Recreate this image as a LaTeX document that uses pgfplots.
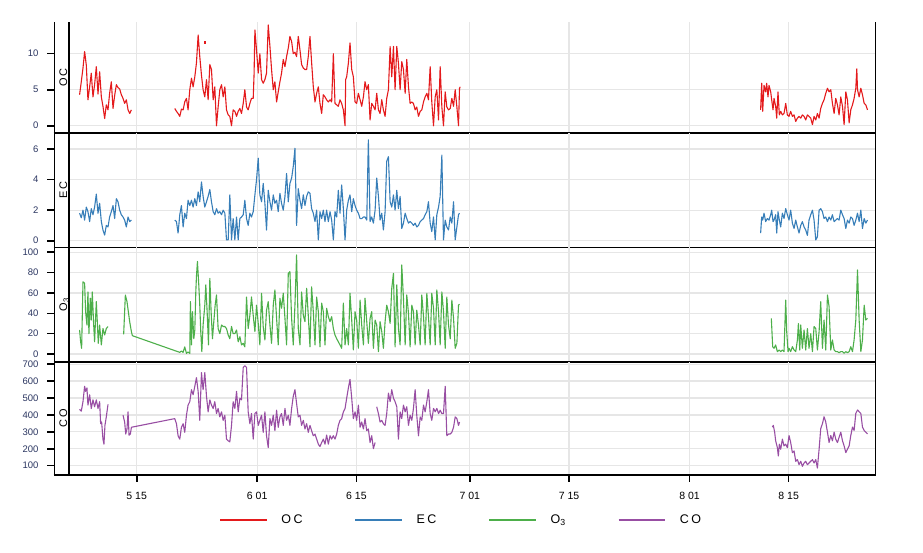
\documentclass[border=0pt]{standalone}
\usepackage{fontspec}
\setmainfont{Liberation Sans}
\newfontfamily\spacedfont[LetterSpace=20]{Liberation Sans}
\usepackage{pgfplots}
\usepackage{pgfplotstable}
\pgfplotsset{compat=1.18}
\definecolor{ocred}{HTML}{E41A1C}
\definecolor{ecblue}{HTML}{377EB8}
\definecolor{othree}{HTML}{4DAF4A}
\definecolor{copurp}{HTML}{984EA3}
\definecolor{gridc}{HTML}{E6E6E6}
\definecolor{ylab}{HTML}{2A3560}

\pgfplotstableread{
d v
6.94 4.3
7.18 6.1
7.42 8.0
7.65 10.3
7.89 8.4
8.12 3.6
8.36 5.4
8.59 7.3
8.83 4.0
9.06 5.7
9.30 8.2
9.54 4.4
9.77 7.5
10.01 4.0
10.24 2.7
10.48 1.0
10.71 2.9
10.95 2.2
11.18 4.5
11.42 6.1
11.66 2.4
11.89 4.2
12.13 5.7
12.36 5.3
12.60 5.1
12.83 4.3
13.07 3.8
13.30 3.1
13.54 3.6
13.78 2.2
14.01 1.7
14.25 2.2
nan nan
20.37 2.4
20.61 2.0
20.84 1.7
21.08 1.3
21.31 2.3
21.55 2.2
21.78 3.3
22.02 3.8
22.25 2.2
22.49 5.0
22.73 6.6
22.96 5.4
23.20 6.8
23.43 8.7
23.67 12.6
23.90 9.6
24.14 7.0
24.37 5.0
24.61 4.0
24.85 6.4
25.08 3.6
25.32 8.5
25.55 7.8
25.79 3.6
26.02 5.4
26.26 0.0
26.49 2.6
26.73 5.0
26.97 5.7
27.20 4.0
27.44 5.4
27.67 2.2
27.91 1.5
28.14 1.3
28.38 0.0
28.61 2.2
28.85 2.0
29.09 1.3
29.32 2.0
29.56 2.4
29.79 1.7
30.03 3.1
30.26 5.0
30.50 2.6
30.73 2.2
30.97 3.1
31.20 3.8
31.44 3.8
31.56 7.1
31.68 13.3
31.91 10.5
32.15 7.3
32.38 10.0
32.62 6.4
32.85 5.9
33.09 6.4
33.32 7.3
33.56 14.0
33.80 11.0
34.03 7.8
34.27 5.0
34.50 6.1
34.74 3.3
34.97 4.7
35.21 6.1
35.44 7.3
35.68 9.2
35.92 8.2
36.15 9.6
36.39 10.8
36.62 12.4
36.86 11.7
37.09 10.0
37.33 10.2
37.56 9.6
37.80 12.4
38.04 10.5
38.27 8.5
38.51 8.0
38.74 7.8
38.98 7.8
39.21 9.6
39.45 12.4
39.68 8.8
39.92 5.4
40.16 3.3
40.39 4.5
40.63 5.4
40.86 3.1
41.10 1.7
41.33 4.3
41.57 4.0
41.80 3.6
42.04 3.3
42.28 3.6
42.51 3.3
42.75 10.0
42.98 3.1
43.22 2.9
43.45 2.7
43.69 3.6
43.92 3.1
44.16 2.2
44.40 0.0
44.49 6.4
44.63 6.8
44.87 8.7
45.10 11.5
45.34 7.8
45.57 6.8
45.81 3.3
46.04 3.1
46.28 4.5
46.52 3.6
46.75 2.7
46.99 4.0
47.22 6.1
47.46 5.0
47.69 5.7
47.93 0.8
48.16 3.1
48.40 2.7
48.64 2.2
48.87 4.5
49.11 2.2
49.34 1.7
49.58 3.6
49.81 2.2
50.05 1.3
50.28 3.8
50.52 5.0
50.76 11.0
50.99 6.8
51.23 11.0
51.46 5.0
51.70 11.0
51.93 8.7
52.17 5.0
52.40 8.9
52.64 7.8
52.88 4.5
53.11 9.2
53.35 5.4
53.58 3.1
53.82 3.3
54.05 3.1
54.29 2.2
54.52 2.6
54.76 1.3
55.00 2.0
55.23 2.2
55.47 3.3
55.70 4.0
55.94 4.5
56.17 3.6
56.41 8.2
56.64 3.3
56.88 0.0
57.12 4.0
57.35 5.0
57.59 0.8
57.82 8.2
58.06 2.6
58.29 0.0
58.53 4.7
58.76 2.6
59.00 2.2
59.24 2.4
59.47 3.8
59.71 2.7
59.94 5.0
60.18 2.6
60.41 0.0
60.55 5.2
60.65 5.4
nan nan
103.04 2.2
103.19 5.9
103.33 2.0
103.52 5.6
103.75 4.7
103.89 5.9
104.08 4.0
104.22 5.6
104.46 4.7
104.60 3.6
104.79 2.2
104.93 3.8
105.16 2.7
105.31 1.05
105.49 4.7
105.68 1.5
105.87 2.0
106.11 1.5
106.34 1.7
106.58 3.1
106.81 1.5
107.05 1.3
107.28 2.0
107.52 1.3
107.76 1.5
107.99 0.6
108.23 1.05
108.46 1.3
108.70 1.05
108.93 1.5
109.17 1.3
109.40 0.8
109.64 1.5
109.87 1.3
110.11 1.05
110.35 0.15
110.58 1.3
110.82 0.8
111.05 1.7
111.29 1.05
111.52 2.4
111.76 3.1
111.99 3.6
112.23 4.5
112.47 5.2
112.70 4.7
112.94 5.0
113.17 3.1
113.41 1.7
113.64 3.8
113.88 2.9
114.11 1.5
114.35 4.0
114.59 2.7
114.82 0.15
115.06 4.7
115.29 3.6
115.53 0.4
115.76 2.2
116.00 2.9
116.23 3.8
116.47 5.2
116.61 7.9
116.71 5.0
116.94 4.0
117.18 5.2
117.41 4.3
117.65 3.1
117.88 2.9
118.12 2.2
}\octable

\pgfplotstableread{
d v
6.94 1.8
7.18 1.5
7.42 2.0
7.65 1.35
7.89 2.2
8.12 1.9
8.36 1.25
8.59 2.1
8.83 1.7
9.06 2.2
9.30 3.05
9.54 1.8
9.77 2.45
10.01 1.25
10.24 0.7
10.48 0.37
10.71 1.0
10.95 0.9
11.18 1.55
11.42 1.9
11.66 2.3
11.89 1.45
12.13 2.75
12.36 2.55
12.60 2.0
12.83 1.7
13.07 1.55
13.30 1.35
13.54 0.9
13.78 1.55
14.01 1.25
14.25 1.35
nan nan
20.37 1.35
20.61 1.25
20.84 0.5
21.08 1.7
21.31 2.3
21.55 0.9
21.78 1.8
22.02 1.45
22.25 2.65
22.49 2.3
22.73 2.65
22.96 2.2
23.20 2.75
23.43 2.3
23.67 3.2
23.90 2.55
24.14 3.85
24.37 2.9
24.61 2.2
24.85 2.55
25.08 2.9
25.32 3.35
25.55 2.55
25.79 1.9
26.02 1.7
26.26 2.1
26.49 1.8
26.73 1.9
26.97 1.7
27.20 2.0
27.44 1.8
27.67 0.05
27.91 0.05
28.14 3.0
28.38 0.05
28.61 1.45
28.85 0.05
29.09 1.55
29.32 0.05
29.56 1.45
29.79 1.55
30.03 1.7
30.26 2.65
30.50 1.45
30.73 1.0
30.97 1.8
31.20 1.55
31.44 1.9
31.68 3.0
31.91 4.0
32.15 5.4
32.38 3.0
32.62 2.55
32.85 3.75
33.09 2.45
33.32 0.7
33.56 3.3
33.80 2.55
34.03 2.0
34.27 3.0
34.50 2.45
34.74 2.65
34.97 1.9
35.21 3.1
35.44 2.45
35.68 2.0
35.92 2.9
36.15 4.4
36.39 2.55
36.62 3.75
36.86 4.1
37.09 4.85
37.33 6.05
37.56 1.0
37.80 3.4
38.04 2.65
38.27 2.1
38.51 3.0
38.74 2.3
38.98 2.9
39.21 3.2
39.45 3.1
39.68 2.1
39.92 1.8
40.16 1.25
40.39 2.0
40.63 0.05
40.86 1.9
41.10 1.45
41.33 2.0
41.57 1.25
41.80 2.0
42.04 1.25
42.28 1.9
42.51 1.35
42.75 0.05
42.98 1.9
43.22 1.55
43.45 3.3
43.69 1.8
43.92 3.65
44.16 2.1
44.40 0.05
44.63 2.0
44.87 2.65
45.10 3.0
45.34 1.9
45.57 2.75
45.81 2.3
46.04 2.0
46.28 1.8
46.52 1.45
46.75 1.45
46.99 1.55
47.22 1.55
47.46 1.35
47.69 6.6
47.93 1.25
48.16 1.55
48.40 1.15
48.64 2.0
48.87 4.1
49.11 2.9
49.34 1.35
49.58 1.8
49.81 0.7
50.05 1.9
50.28 5.2
50.52 5.5
50.76 2.55
50.99 2.2
51.23 3.0
51.46 2.0
51.70 3.3
51.93 2.1
52.17 2.9
52.40 0.8
52.64 1.15
52.88 1.8
53.11 1.45
53.35 1.15
53.58 1.25
53.82 1.15
54.05 1.0
54.29 1.15
54.52 0.9
54.76 1.0
55.00 1.25
55.23 1.35
55.47 1.45
55.70 1.7
55.94 1.9
56.17 2.55
56.41 1.15
56.64 0.6
56.88 1.55
57.12 0.05
57.35 1.7
57.59 2.2
57.82 2.9
58.06 5.6
58.29 0.05
58.53 1.35
58.76 0.9
59.00 0.7
59.24 1.55
59.47 1.15
59.71 2.55
59.94 0.05
60.18 0.9
60.41 1.7
60.55 1.8
nan nan
103.04 0.5
103.19 1.55
103.33 1.35
103.52 1.8
103.75 1.25
103.99 1.45
104.22 1.35
104.46 1.7
104.60 2.0
104.79 1.25
104.93 1.35
105.16 1.7
105.31 0.5
105.49 1.9
105.68 1.35
105.87 0.9
106.11 1.8
106.34 1.45
106.58 2.1
106.81 1.7
107.05 1.35
107.28 2.0
107.52 1.15
107.76 0.8
107.99 1.35
108.23 0.9
108.46 0.5
108.70 1.0
108.93 1.25
109.17 0.9
109.40 0.7
109.64 0.35
109.87 1.35
110.11 1.7
110.35 2.0
110.58 1.35
110.82 0.05
111.05 0.25
111.29 2.0
111.52 2.1
111.76 1.9
111.99 1.45
112.23 1.55
112.47 1.25
112.70 1.55
112.94 1.35
113.17 1.7
113.41 1.25
113.64 1.35
113.88 1.45
114.11 1.35
114.35 2.0
114.59 1.7
114.82 1.45
115.06 0.8
115.29 1.35
115.53 1.15
115.76 1.55
116.00 1.45
116.23 1.0
116.47 1.35
116.71 1.8
116.94 1.25
117.18 2.0
117.41 0.8
117.65 1.45
117.88 1.15
118.12 1.35
}\ectable

\pgfplotstableread{
d v
6.94 23.6
7.09 12
7.23 5.6
7.42 71
7.65 69.5
7.79 41.6
7.98 28.5
8.12 61
8.26 20
8.45 54.8
8.59 33.4
8.73 61
8.92 30
9.06 12
9.30 51.5
9.44 31.8
9.58 10.5
9.77 28.5
10.01 8.9
10.24 25
10.48 18.7
10.71 25
10.95 27
nan nan
13.16 19.3
13.40 58
13.63 51.5
13.82 41.6
14.01 31.8
14.25 22
14.39 18
21.08 1.6
21.31 3
21.55 1.6
21.78 7
22.02 0.6
22.25 2
22.49 0.6
22.58 51.5
22.73 8.9
22.87 41.6
23.06 15
23.20 23.6
23.34 61
23.43 76
23.57 91
23.76 68
23.90 48
24.04 22
24.19 2.3
24.37 28.5
24.61 48
24.75 68
24.94 41.6
25.13 8.9
25.32 74.4
25.50 41.6
25.69 15
25.88 31.8
26.07 48
26.26 58
26.49 25
26.73 20
26.97 28.5
27.20 27
27.44 27
27.67 25
27.91 18.7
28.14 15
28.38 27
28.61 20
28.85 20
29.09 23.6
29.32 12
29.56 17
29.79 8.9
30.03 10.5
30.26 7
30.50 56
30.73 25
30.97 38
31.20 56
31.44 38
31.68 22
31.91 48
32.15 30
32.38 8.9
32.62 59.7
32.85 27
33.09 13.8
33.32 43
33.56 51.5
33.80 28.5
34.03 10.5
34.27 48
34.50 63
34.74 35
34.97 8.9
35.21 54.8
35.44 45
35.68 59.7
35.92 35
36.15 8.9
36.39 79.3
36.62 81
36.86 35
37.09 8.9
37.33 48
37.56 97.4
37.80 25
38.04 8.9
38.27 61
38.51 38
38.74 31.8
38.98 64.6
39.21 38
39.45 7
39.68 66
39.92 41.6
40.16 8.9
40.39 56
40.63 41.6
40.86 7
41.10 50
41.33 41.6
41.57 8.9
41.80 45
42.04 36.7
42.28 31.8
42.51 36.7
42.75 25
42.98 18.7
43.22 15
43.45 12
43.69 8.9
43.92 5.6
44.16 50
44.40 8.9
44.63 25
44.87 8.9
45.10 59.7
45.34 33.4
45.57 4
45.81 41.6
46.04 33.4
46.28 5.6
46.52 53
46.75 28.5
46.99 8.9
47.22 54.8
47.46 31.8
47.69 10.5
47.93 35
48.16 41.6
48.40 5.6
48.64 33.4
48.87 28.5
49.11 2.3
49.34 31.8
49.58 22
49.81 5.6
50.05 31.8
50.28 48
50.52 41.6
50.76 30
50.99 64.6
51.23 79.3
51.46 7
51.70 68
51.93 25
52.17 8.9
52.40 87.5
52.64 54.8
52.88 8.9
53.11 58
53.35 40
53.58 7
53.82 48
54.05 41.6
54.29 8.9
54.52 43
54.76 28.5
55.00 8.9
55.23 58
55.47 36.7
55.70 8.9
55.94 59.7
56.17 36.7
56.41 8.9
56.64 59.7
56.88 45
57.12 8.9
57.35 63
57.59 41.6
57.82 8.9
58.06 61
58.29 41.6
58.53 5.6
58.76 56
59.00 28.5
59.24 15
59.47 53
59.71 35
59.94 5.6
60.18 10.5
60.41 48
60.55 49
nan nan
104.55 35
104.74 7.2
104.93 5.6
105.16 8.9
105.40 2.3
105.64 3.9
105.87 2.3
106.11 3.9
106.34 2.3
106.58 53
106.72 22
106.91 2.3
107.05 5.6
107.28 2.3
107.52 7.2
107.76 3.9
107.99 2.3
108.23 13.8
108.37 30
108.56 3.9
108.70 28.5
108.93 5.6
109.17 23.6
109.40 3.9
109.64 25
109.87 5.6
110.11 20
110.35 2.3
110.58 27
110.82 25
111.05 3.9
111.29 22
111.52 51.5
111.76 5.6
111.99 33.4
112.23 3.9
112.47 58
112.70 46.6
112.94 3.9
113.17 13.8
113.41 3.9
113.64 2.3
113.88 2.3
114.11 1.3
114.35 2.3
114.59 2.3
114.82 0.7
115.06 2.3
115.29 1.3
115.53 2.3
115.76 7.2
116.00 2.3
116.23 13.8
116.47 33.4
116.71 82.6
116.94 33.4
117.18 2.3
117.41 13.8
117.65 48
117.88 33.4
118.12 35
}\othreetable

\pgfplotstableread{
d v
6.94 433
7.18 422
7.42 478
7.65 569
7.79 539
7.98 559
8.12 458
8.36 519
8.59 438
8.83 489
9.06 448
9.30 489
9.54 438
9.77 478
9.91 348
10.05 358
10.24 257
10.38 227
10.52 338
10.71 388
10.95 462
nan nan
13.07 398
13.30 358
13.45 287
13.63 317
13.78 418
13.92 280
14.11 287
14.25 327
20.37 378
20.61 348
20.84 277
21.08 257
21.31 327
21.55 348
21.78 297
22.02 398
22.25 458
22.49 478
22.73 549
22.96 519
23.20 569
23.43 620
23.67 539
23.90 368
24.14 650
24.37 549
24.61 650
24.85 509
25.08 418
25.32 489
25.55 458
25.79 438
26.02 478
26.26 408
26.49 438
26.73 388
26.97 418
27.20 368
27.44 398
27.67 257
27.91 247
28.14 241
28.38 338
28.61 478
28.85 438
29.09 539
29.32 418
29.56 499
29.79 489
30.03 680
30.26 690
30.50 680
30.73 418
30.97 348
31.20 408
31.44 257
31.68 408
31.91 418
32.15 338
32.38 368
32.62 398
32.85 297
33.09 418
33.32 277
33.56 207
33.80 378
34.03 338
34.27 398
34.50 307
34.74 428
34.97 327
35.21 388
35.44 408
35.68 338
35.92 438
36.15 368
36.39 398
36.62 338
36.86 438
37.09 509
37.33 549
37.56 468
37.80 388
38.04 398
38.27 338
38.51 368
38.74 317
38.98 348
39.21 297
39.45 338
39.68 307
39.92 277
40.16 287
40.39 257
40.63 227
40.86 213
41.10 237
41.33 257
41.57 227
41.80 281
42.04 227
42.28 277
42.51 257
42.75 277
42.98 257
43.22 287
43.45 338
43.69 368
43.92 378
44.16 418
44.40 438
44.63 499
44.87 559
45.10 610
45.34 499
45.57 378
45.81 418
46.04 368
46.28 458
46.52 327
46.75 358
46.99 317
47.22 378
47.46 307
47.69 317
47.93 237
48.16 277
48.40 201
48.64 237
nan nan
48.87 448
49.11 408
49.34 358
49.58 368
49.81 348
50.05 338
50.28 408
50.52 529
50.76 478
50.99 549
51.23 499
51.46 478
51.70 448
51.93 257
52.17 418
52.40 378
52.64 458
52.88 418
53.11 448
53.35 338
53.58 398
53.82 368
54.05 438
54.29 549
54.52 398
54.76 277
55.00 388
55.23 368
55.47 458
55.70 418
55.94 478
56.17 549
56.41 408
56.64 368
56.88 438
57.12 418
57.35 438
57.59 408
57.82 428
58.06 408
58.29 408
58.53 569
58.76 277
59.00 287
59.24 287
59.47 297
59.71 327
59.94 388
60.18 378
60.41 338
60.55 358
nan nan
104.69 328
104.83 338
105.02 298
105.16 247
105.40 207
105.54 157
105.68 227
105.87 197
106.11 257
106.34 217
106.58 227
106.81 207
107.05 278
107.28 237
107.52 177
107.76 187
107.99 126
108.23 136
108.46 106
108.70 126
108.93 96
109.17 116
109.40 126
109.64 106
109.87 116
110.11 126
110.35 136
110.58 116
110.82 136
111.05 86
111.29 197
111.52 318
111.76 348
111.99 389
112.23 358
112.47 298
112.70 237
112.94 278
113.17 247
113.41 298
113.64 257
113.88 237
114.11 267
114.35 298
114.59 247
114.82 217
115.06 177
115.29 197
115.53 217
115.76 278
116.00 328
116.23 308
116.47 409
116.71 429
116.94 419
117.18 409
117.41 328
117.65 308
117.88 298
118.12 288
}\cotable

\newcommand\panelframe[1]{%
  \draw[line width=1.8pt] (rel axis cs:0,0) -- (rel axis cs:0,1);
  \draw[line width=1.8pt] (rel axis cs:1,0) -- (rel axis cs:1,1);
  \draw[line width=1.8pt] ([xshift=-14.5pt]rel axis cs:0,0) -- ([xshift=-14.5pt]rel axis cs:0,1);
  \draw[line width=1.8pt] ([xshift=-15.4pt]rel axis cs:0,0) -- ([xshift=0.9pt]rel axis cs:1,0);
  \node[rotate=90, anchor=base, inner sep=0pt, font=\spacedfont\fontsize{11}{12}\selectfont] at ([xshift=-1.8pt]rel axis cs:0,0.5) {#1};
}

\pgfplotsset{
  panel/.style={
    scale only axis, width=806.5pt,
    xmin=5.447, xmax=119.25,
    axis line style={draw=none},
    clip mode=individual,
    grid=major,
    major grid style={draw=gridc, line width=1.2pt},
    xtick={15,32,46,62,76,93,107},
    tick align=outside,
    xtick pos=left, ytick pos=left,
    major tick length=7pt,
    y tick style={xshift=-14.5pt, line width=1.6pt, black},
    yticklabel style={font=\fontsize{9.5}{10}\selectfont, text=ylab, xshift=-20pt},
    /pgf/number format/assume math mode=true,
    unbounded coords=jump,
  },
  upper/.style={xticklabels={}, x tick style={draw=none}},
  series/.style={line width=1.1pt, line join=round},
}

\begin{document}
\begin{tikzpicture}
\useasboundingbox (-69pt,22pt) rectangle (854pt,-531pt);

\begin{axis}[panel, upper, at={(0pt,0pt)}, anchor=north west, height=111pt,
  ymin=-1.01, ymax=14.4, ytick={0,5,10}]
\addplot[series, ocred] table[x=d, y=v] {\octable};
\addplot[only marks, mark=square*, mark size=0.6pt, ocred] coordinates {(24.61,11.6)};
\panelframe{OC}
\end{axis}

\begin{axis}[panel, upper, at={(0pt,-111pt)}, anchor=north west, height=114.5pt,
  ymin=-0.445, ymax=7.05, ytick={0,2,4,6}]
\addplot[series, ecblue] table[x=d, y=v] {\ectable};
\panelframe{EC}
\end{axis}

\begin{axis}[panel, upper, at={(0pt,-225.5pt)}, anchor=north west, height=114.5pt,
  ymin=-7.87, ymax=104.7, ytick={0,20,40,60,80,100}]
\addplot[series, othree] table[x=d, y=v] {\othreetable};
\panelframe{O\textsubscript{3}}
\end{axis}

\begin{axis}[panel, at={(0pt,-340pt)}, anchor=north west, height=113pt,
  ymin=45, ymax=712.5, ytick={100,200,300,400,500,600,700},
  xticklabels={5 15, 6 01, 6 15, 7 01, 7 15, 8 01, 8 15},
  xticklabel style={font=\fontsize{10.5}{12}\selectfont, text=black, yshift=-7pt},
  x tick style={line width=1.6pt, black},
  legend columns=4,
  legend style={draw=none, fill=none, inner sep=0pt,
    at={(axis description cs:0,0)}, anchor=west, xshift=150pt, yshift=-45pt,
    font=\spacedfont\fontsize{12.5}{14}\selectfont,
    /tikz/every odd column/.append style={column sep=12pt},
    /tikz/every even column/.append style={column sep=50pt}},
  legend image code/.code={\draw[#1, line width=1.6pt] (0pt,0pt) -- (46.5pt,0pt);}]
\addlegendimage{ocred}
\addlegendimage{ecblue}
\addlegendimage{othree}
\addplot[series, copurp] table[x=d, y=v] {\cotable};
\legend{OC, EC, O\textsubscript{3}, CO}
\panelframe{CO}
\end{axis}
\end{tikzpicture}
\end{document}
